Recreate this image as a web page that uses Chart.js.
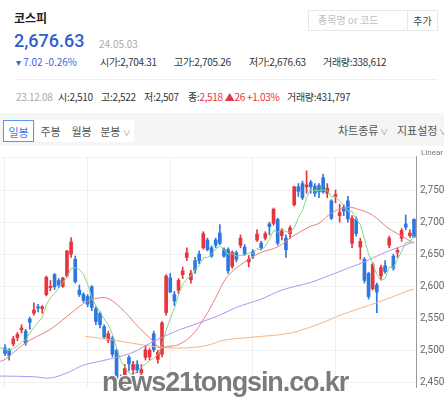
<!DOCTYPE html>
<html><head><meta charset="utf-8">
<script src="https://cdn.jsdelivr.net/npm/chart.js@4/dist/chart.umd.min.js"></script>
<style>
html,body{margin:0;padding:0;background:#fff;}
#root{position:relative;width:444px;height:397px;overflow:hidden;font-family:'Noto Sans CJK KR','Noto Sans',sans-serif;color:#333;}
.a{position:absolute;white-space:nowrap;line-height:1;}
.s10{font-size:10px;letter-spacing:-0.3px;}
#bar{position:absolute;left:0;top:113px;width:444px;height:33px;background:#f5f5f5;}
.btn{position:absolute;top:7px;height:22px;background:#fff;font-size:11px;color:#555;text-align:center;line-height:22px;box-sizing:border-box;}
#wrap{position:absolute;left:0;top:146px;width:444px;height:251px;}
#wm{position:absolute;left:102px;top:367px;font-family:'Liberation Sans',Arial,sans-serif;font-weight:700;font-size:27px;color:rgba(105,105,105,0.88);letter-spacing:-1.1px;text-shadow:0 0 2px #fff,1px 1px 0 #fff,-1px -1px 0 #fff,1px -1px 0 #fff,-1px 1px 0 #fff;pointer-events:none;}
</style></head>
<body><div id="root">
<div class="a" style="left:14px;top:12px;font-size:12px;font-weight:700;color:#222;">코스피</div>
<div class="a" style="left:14px;top:32px;font-family:Roboto,'Noto Sans',sans-serif;font-size:18px;font-weight:500;color:#2f60d2;">2,676.63</div>
<div class="a" style="left:99px;top:39px;font-size:10px;color:#aaa;">24.05.03</div>
<div class="a" style="left:16px;top:57px;font-size:10px;color:#3a66d6;">▾ 7.02 -0.26%</div>
<div class="a s10" style="left:100px;top:57px;">시가:2,704.31</div>
<div class="a s10" style="left:174px;top:57px;">고가:2,705.26</div>
<div class="a s10" style="left:249px;top:57px;">저가:2,676.63</div>
<div class="a s10" style="left:323px;top:57px;">거래량:338,612</div>
<div class="a" style="left:308px;top:10px;width:100px;height:21px;border:1px solid #e8e8e8;box-sizing:border-box;"></div>
<div class="a" style="left:318px;top:15px;font-size:10px;color:#c0c0c0;">종목명 or 코드</div>
<div class="a" style="left:407px;top:10px;width:31px;height:21px;border:1px solid #e8e8e8;box-sizing:border-box;font-size:10px;color:#444;text-align:center;line-height:19px;">추가</div>
<div class="a" style="left:16px;top:79px;width:421px;height:1px;background:#eee;"></div>
<div class="a s10" style="left:16px;top:92px;color:#aaa;">23.12.08</div>
<div class="a s10" style="left:58px;top:92px;">시:2,510</div>
<div class="a s10" style="left:101px;top:92px;">고:2,522</div>
<div class="a s10" style="left:144px;top:92px;">저:2,507</div>
<div class="a s10" style="left:188px;top:92px;">종:<span style="color:#e8343c">2,518 ▲26 +1.03%</span></div>
<div class="a s10" style="left:287px;top:92px;">거래량:431,797</div>
<div id="bar">
 <div class="btn" style="left:3px;width:31px;border:1px solid #5b96e6;color:#3a7de0;">일봉</div>
 <div class="btn" style="left:35px;width:31px;">주봉</div>
 <div class="btn" style="left:66px;width:31px;">월봉</div>
 <div class="btn" style="left:97px;width:37px;">분봉 <span style="font-size:8px;color:#999">∨</span></div>
 <div class="a" style="left:338px;top:12px;font-size:11px;color:#555;">차트종류<span style="font-size:8px;color:#999"> ∨</span></div>
 <div class="a" style="left:397px;top:12px;font-size:11px;color:#555;">지표설정<span style="font-size:8px;color:#999"> ∨</span></div>
</div>
<div id="wrap"><canvas id="c"></canvas></div>
<div class="a" style="left:421px;top:149px;font-size:8px;color:#777;font-family:Roboto,sans-serif;">Linear</div>
<div id="wm">news21tongsin.co.kr</div>
</div>
<script>
const dates = ['23.12.06','23.12.07','23.12.08','23.12.11','23.12.12','23.12.13','23.12.14','23.12.15','23.12.18','23.12.19','23.12.20','23.12.21','23.12.22','23.12.26','23.12.27','23.12.28',
'24.01.02','24.01.03','24.01.04','24.01.05','24.01.08','24.01.09','24.01.10','24.01.11','24.01.12','24.01.15','24.01.16','24.01.17','24.01.18','24.01.19','24.01.22','24.01.23','24.01.24','24.01.25','24.01.26','24.01.29','24.01.30','24.01.31',
'24.02.01','24.02.02','24.02.05','24.02.06','24.02.07','24.02.08','24.02.13','24.02.14','24.02.15','24.02.16','24.02.19','24.02.20','24.02.21','24.02.22','24.02.23','24.02.26','24.02.27','24.02.28','24.02.29',
'24.03.04','24.03.05','24.03.06','24.03.07','24.03.08','24.03.11','24.03.12','24.03.13','24.03.14','24.03.15','24.03.18','24.03.19','24.03.20','24.03.21','24.03.22','24.03.25','24.03.26','24.03.27','24.03.28','24.03.29',
'24.04.01','24.04.02','24.04.03','24.04.04','24.04.05','24.04.08','24.04.09','24.04.11','24.04.12','24.04.15','24.04.16','24.04.17','24.04.18','24.04.19','24.04.22','24.04.23','24.04.24','24.04.25','24.04.26','24.04.29','24.04.30',
'24.05.02','24.05.03'];
const openV = [2504,2500,2510,2520,2532,2530,2549,2558,2568,2565, 2587,2598,2618,2609,2600,2616,2650,2642,2594,2587, 2584,2599,2565,2558,2537,2516,2519,2500,2455,2450, 2489,2470,2478,2465,2489,2490,2526,2486,2494,2559, 2613,2587,2594,2618,2645,2610,2640,2650,2660,2672, 2660,2672,2683,2657,2657,2631,2652,2664,2661,2638, 2654,2672,2667,2675,2697,2698,2704,2679,2675,2682, 2727,2755,2760,2755,2762,2756,2757,2769,2745,2733, 2740,2710,2723,2733,2667,2704,2661,2642,2620,2596, 2602,2616,2632,2664,2647,2653,2675,2697,2679,2704.31];
const highV = [2509,2503,2522,2528,2540,2533,2552,2574,2572,2570, 2616,2609,2620,2612,2614,2656,2676,2647,2602,2590, 2587,2601,2568,2560,2540,2530,2522,2502,2462,2478, 2492,2483,2484,2478,2507,2503,2530,2500,2545,2618, 2620,2592,2612,2630,2660,2625,2645,2655,2685,2675, 2663,2675,2696,2660,2660,2655,2655,2680,2665,2648, 2657,2688,2670,2685,2700,2722,2706,2690,2680,2694, 2756,2760,2764,2780,2765,2760,2760,2775,2760,2735, 2750,2728,2727,2740,2710,2708,2675,2645,2622,2637, 2605,2633,2640,2678,2650,2660,2690,2711,2688,2705.26];
const lowV = [2492,2485,2507,2515,2527,2508,2533,2555,2560,2558, 2585,2593,2595,2598,2598,2614,2645,2605,2584,2575, 2568,2562,2540,2535,2518,2512,2490,2432,2425,2445, 2468,2462,2465,2460,2485,2485,2498,2480,2490,2555, 2590,2570,2588,2612,2640,2605,2620,2635,2658,2655, 2645,2660,2665,2645,2620,2628,2638,2660,2648,2630, 2643,2670,2657,2672,2680,2695,2664,2672,2645,2675, 2725,2740,2735,2745,2745,2740,2738,2745,2738,2704, 2730,2700,2710,2700,2660,2678,2642,2605,2580,2594, 2559,2610,2620,2660,2625,2645,2670,2688,2676,2676.63];
const closeV = [2495,2492,2518,2525,2535,2512,2544,2563,2566,2568, 2614,2600,2599,2602,2613,2655,2669,2607,2587,2578, 2572,2567,2545,2540,2521,2526,2494,2440,2440,2472, 2479,2478,2469,2470,2501,2500,2501,2497,2543,2616, 2591,2577,2609,2624,2652,2620,2625,2640,2682,2657, 2647,2664,2667,2647,2624,2653,2642,2675,2650,2642, 2647,2681,2660,2682,2693,2720,2667,2686,2657,2691, 2755,2748,2738,2758,2755,2745,2747,2747,2753,2706, 2743,2715,2717,2705,2706,2682,2670,2609,2584,2634, 2591,2629,2623,2675,2628,2656,2687,2692,2683,2676.63];
const ma5Idx = [-1.2,0,1,2,3,4,5,6,7,8,9,10,11,12,13,14,15,16,17,18,19,20,21,22,23,24,25,26,27,28,29,30,31,32,33,34,35,36,37,38,39,40,41,42,43,44,45,46,47,48,49,50,51,52,53,54,55,56,57,58,59,60,61,62,63,64,65,66,67,68,69,70,71,72,73,74,75,76,77,78,79,80,81,82,83,84,85,86,87,88,89,90,91,92,93,94,95,96,97,98,99];
const ma5Val = [2504,2502,2500,2503,2507,2513,2516,2527,2536,2544,2551, 2571,2582,2589,2597,2606,2614,2628,2629,2626,2619, 2603,2582,2570,2560,2549,2540,2525,2504,2484,2474, 2465,2462,2468,2474,2479,2484,2488,2494,2508,2531, 2550,2565,2587,2603,2611,2616,2626,2632,2644,2645, 2650,2658,2663,2656,2650,2651,2647,2648,2649,2652, 2651,2659,2656,2662,2673,2687,2684,2690,2685,2684, 2691,2707,2718,2738,2751,2749,2749,2750,2749,2740, 2739,2733,2727,2717,2717,2705,2696,2674,2650,2636, 2618,2609,2612,2630,2629,2642,2654,2668,2669,2679];
const ma20Idx = [-1.2,0,5,11,15,19,22,25,29,32.2,35.6,37.5,39.2,42,45.3,48.4,50.9,53.8,57.6,61.7,65.9,69.7,73.8,76,79.2,83,85.5,88.9,92.7,96.1,99];
const ma20Val = [2483,2486,2512,2533,2553,2573,2581,2581,2560,2537,2516,2504,2506,2509,2524,2552,2581,2615,2636,2652,2661,2678,2693,2698,2715,2723,2720,2711,2691,2678,2667];
const ma60Idx = [-1.2,0,7,11,15,19,25,31,35,41,47,52,56,62,67,74,77,83,87,91,95,99];
const ma60Val = [2460,2460,2459,2457,2465,2477,2486,2497,2511,2529,2543,2555,2567,2580,2594,2606,2613,2628,2638,2650,2660,2669];
const ma120Idx = [19.4,25.4,31,35,39,44,49,53,60.5,69,76.8,80.4,84.7,88,92,96,99];
const ma120Val = [2522,2517,2511,2507,2504,2504,2508,2516,2521,2527,2543,2553,2563,2570,2579,2589,2596];
const yTicks = [2450,2500,2550,2600,2650,2700,2750,2800];
const xGridAt = [0,20,40,60,80];

const UP='#e8343c', DOWN='#2c78e0';
const col = closeV.map((c,i)=> c>=openV[i]?UP:DOWN);
const pts=(ix,v)=>ix.map((x,i)=>({x:x,y:v[i]}));

new Chart(document.getElementById('c'),{
 data:{labels:dates,datasets:[
  {type:'line',data:pts(ma5Idx,ma5Val),borderColor:'#86d48a',borderWidth:1,pointRadius:0,tension:0,order:1},
  {type:'line',data:pts(ma20Idx,ma20Val),borderColor:'#e8807a',borderWidth:1,pointRadius:0,tension:0.35,order:1},
  {type:'line',data:pts(ma60Idx,ma60Val),borderColor:'#b592f2',borderWidth:1,pointRadius:0,tension:0.35,order:1},
  {type:'line',data:pts(ma120Idx,ma120Val),borderColor:'#f4b584',borderWidth:1,pointRadius:0,tension:0.35,order:1},
  {type:'bar',data:lowV.map((l,i)=>({x:i,y:[l,highV[i]]})),backgroundColor:col,barThickness:1,grouped:false,order:3},
  {type:'bar',data:openV.map((o,i)=>({x:i,y:[Math.min(o,closeV[i]),Math.max(o,closeV[i])]})),backgroundColor:col,barThickness:3,minBarLength:1,grouped:false,order:2}
 ]},
 options:{responsive:true,maintainAspectRatio:false,animation:false,
  layout:{padding:{left:0,top:4,right:0,bottom:0}},
  plugins:{legend:{display:false},tooltip:{enabled:false}},
  scales:{
   x:{type:'linear',min:-1.21,max:99.48,offset:false,
      afterBuildTicks:s=>{s.ticks=xGridAt.map(v=>({value:v}));},
      afterFit:s=>{s.height=0;},
      ticks:{display:false},border:{display:false},
      grid:{offset:false,drawTicks:false,color:'#efefef'}},
   y:{position:'right',min:2443,max:2803,
      afterBuildTicks:s=>{s.ticks=yTicks.map(v=>({value:v}));},
      afterFit:s=>{s.width=28;},
      border:{display:true,color:'#9a9a9a'},
      grid:{drawTicks:false,color:'#f1f1f1'},
      ticks:{padding:4,color:'#666',font:{size:10,family:'Roboto'},callback:v=>v===2800?'':v.toLocaleString('en-US')}}
  }}
});
</script>
</body></html>
